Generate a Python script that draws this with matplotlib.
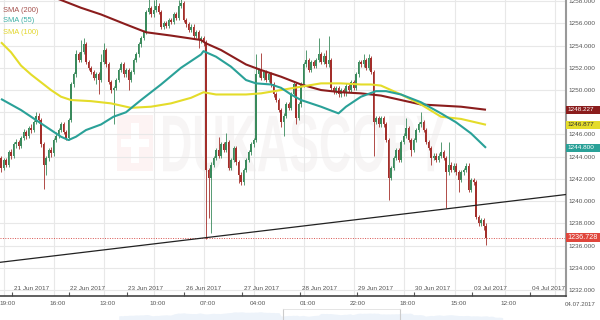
import numpy as np
import matplotlib
matplotlib.use("Agg")
import matplotlib.pyplot as plt
from matplotlib import transforms
from matplotlib.patches import Rectangle, PathPatch
from matplotlib.lines import Line2D
from matplotlib.textpath import TextPath
from matplotlib.font_manager import FontProperties
from matplotlib.ticker import FuncFormatter

plt.rcParams['font.family'] = ['Liberation Sans', 'DejaVu Sans']

# hourly XAU/USD candles, 20 Jun -> 03 Jul 2017
opens = [
    1243.9, 1243.0, 1243.7, 1243.3, 1244.4, 1244.1, 1245.1, 1245.3, 1245.0, 1245.7,
    1246.2, 1245.9, 1246.6, 1246.4, 1247.1, 1247.7, 1247.3, 1245.1, 1243.3, 1243.9,
    1244.6, 1244.3, 1245.5, 1245.9, 1246.4, 1246.9, 1246.2, 1245.7, 1247.3, 1250.5,
    1251.4, 1253.2, 1252.7, 1253.4, 1254.1, 1252.5, 1252.0, 1251.6, 1251.1, 1251.4,
    1250.9, 1252.5, 1253.6, 1252.3, 1250.7, 1250.0, 1250.2, 1250.9, 1251.8, 1252.3,
    1251.4, 1251.8, 1250.9, 1251.6, 1252.7, 1253.2, 1254.1, 1254.7, 1255.2, 1257.0,
    1257.4, 1256.8, 1257.2, 1257.6, 1257.0, 1255.7, 1256.0, 1255.8, 1256.3, 1256.1,
    1256.8, 1256.5, 1257.6, 1257.8, 1256.3, 1255.9, 1255.4, 1255.7, 1254.9, 1255.2,
    1254.5, 1254.7, 1254.3, 1242.8, 1242.1, 1243.3, 1243.9, 1244.6, 1244.1, 1245.1,
    1244.6, 1245.3, 1243.0, 1243.7, 1244.8, 1243.5, 1242.4, 1241.7, 1242.8, 1243.7,
    1244.4, 1245.1, 1245.5, 1251.4, 1251.8, 1251.1, 1251.6, 1250.9, 1251.4, 1250.5,
    1249.6, 1249.1, 1248.2, 1247.1, 1247.7, 1248.7, 1248.4, 1249.6, 1250.5, 1247.5,
    1248.7, 1250.5, 1252.3, 1252.7, 1251.8, 1252.5, 1252.2, 1252.7, 1253.2, 1252.5,
    1253.1, 1252.3, 1252.7, 1250.2, 1249.8, 1250.2, 1249.6, 1250.0, 1249.7, 1250.4,
    1250.0, 1250.7, 1250.2, 1251.4, 1252.5, 1252.3, 1252.7, 1252.0, 1252.9, 1251.6,
    1247.1, 1247.5, 1246.9, 1247.5, 1246.9, 1245.5, 1242.1, 1243.0, 1243.9, 1244.6,
    1243.7, 1245.3, 1245.9, 1246.6, 1245.5, 1244.6, 1245.5, 1246.4, 1246.9, 1247.1,
    1246.4, 1245.3, 1244.8, 1243.9, 1244.1, 1243.7, 1244.1, 1244.4, 1243.9, 1242.6,
    1243.3, 1242.8, 1243.2, 1242.6, 1241.9, 1242.6, 1242.8, 1243.2, 1241.0, 1241.9,
    1241.7, 1238.6, 1238.0, 1238.3, 1237.8,
]
highs = [
    1244.1, 1243.9, 1243.9, 1244.6, 1244.7, 1245.3, 1245.6, 1245.5, 1245.9, 1246.5,
    1246.4, 1246.8, 1246.9, 1247.3, 1248.0, 1247.9, 1247.5, 1245.3, 1244.1, 1244.8,
    1244.9, 1245.7, 1246.2, 1246.6, 1247.1, 1247.1, 1246.4, 1247.5, 1250.7, 1251.6,
    1253.6, 1253.4, 1254.5, 1254.7, 1254.3, 1252.7, 1252.2, 1251.8, 1251.6, 1251.6,
    1253.2, 1254.2, 1253.8, 1252.5, 1250.9, 1250.4, 1251.1, 1252.0, 1252.5, 1252.5,
    1252.0, 1252.0, 1251.8, 1252.9, 1253.4, 1254.3, 1254.9, 1255.4, 1257.2, 1258.5,
    1257.6, 1258.1, 1258.4, 1257.8, 1257.2, 1256.2, 1256.2, 1256.5, 1256.5, 1257.0,
    1257.0, 1258.1, 1258.3, 1258.0, 1256.5, 1256.1, 1255.9, 1255.9, 1255.4, 1255.4,
    1254.9, 1254.9, 1254.5, 1243.0, 1243.5, 1244.1, 1244.8, 1245.8, 1245.3, 1245.3,
    1246.1, 1245.5, 1243.9, 1245.0, 1245.0, 1243.7, 1242.6, 1243.0, 1243.9, 1244.6,
    1245.3, 1245.7, 1253.2, 1252.0, 1253.3, 1251.8, 1251.8, 1251.6, 1251.6, 1250.7,
    1249.8, 1249.3, 1248.4, 1247.9, 1248.9, 1248.9, 1249.8, 1250.7, 1250.7, 1248.9,
    1250.7, 1252.5, 1253.6, 1252.9, 1252.7, 1252.7, 1252.9, 1254.7, 1253.4, 1253.3,
    1253.6, 1254.9, 1252.9, 1250.4, 1250.4, 1250.4, 1250.2, 1250.2, 1250.6, 1250.6,
    1250.9, 1250.9, 1251.6, 1252.7, 1252.7, 1253.2, 1252.9, 1253.2, 1253.1, 1251.8,
    1247.7, 1247.7, 1247.7, 1247.7, 1247.1, 1245.7, 1243.2, 1244.1, 1244.8, 1244.8,
    1245.5, 1246.1, 1247.5, 1246.8, 1245.7, 1245.7, 1246.6, 1247.1, 1248.0, 1247.3,
    1246.6, 1245.5, 1245.0, 1244.3, 1244.3, 1244.3, 1245.3, 1244.6, 1244.1, 1245.3,
    1243.5, 1243.4, 1243.4, 1242.8, 1242.8, 1243.0, 1243.4, 1243.4, 1242.1, 1242.1,
    1241.9, 1238.8, 1238.5, 1238.5, 1238.0,
]
lows = [
    1242.6, 1242.8, 1243.1, 1243.1, 1243.8, 1243.9, 1244.8, 1244.7, 1244.8, 1245.5,
    1245.6, 1245.7, 1246.1, 1246.2, 1246.9, 1247.0, 1244.9, 1241.1, 1242.4, 1243.6,
    1244.0, 1244.1, 1245.3, 1245.7, 1246.2, 1246.0, 1245.5, 1245.5, 1247.1, 1250.3,
    1251.2, 1252.5, 1252.5, 1253.2, 1252.3, 1251.8, 1251.4, 1250.9, 1250.5, 1249.6,
    1250.7, 1252.3, 1252.1, 1250.5, 1249.7, 1246.9, 1250.0, 1250.7, 1251.6, 1251.2,
    1251.2, 1250.0, 1250.7, 1251.4, 1252.5, 1253.0, 1253.9, 1254.5, 1255.0, 1256.8,
    1256.6, 1256.6, 1257.0, 1256.8, 1255.5, 1255.5, 1255.6, 1255.6, 1255.9, 1255.9,
    1256.3, 1256.3, 1257.4, 1256.1, 1255.7, 1255.2, 1255.2, 1254.7, 1254.7, 1253.8,
    1254.2, 1254.0, 1236.6, 1238.5, 1237.1, 1243.1, 1243.7, 1243.9, 1243.9, 1244.4,
    1244.4, 1242.8, 1242.8, 1243.5, 1243.3, 1241.6, 1241.5, 1241.5, 1242.6, 1243.5,
    1244.2, 1244.9, 1245.3, 1251.2, 1250.9, 1250.9, 1250.7, 1250.7, 1250.3, 1249.4,
    1248.9, 1248.0, 1246.7, 1245.9, 1247.5, 1248.2, 1248.2, 1249.4, 1246.9, 1247.3,
    1248.5, 1250.3, 1252.1, 1251.6, 1251.6, 1252.0, 1252.0, 1252.5, 1252.3, 1252.3,
    1252.1, 1252.1, 1250.0, 1249.6, 1249.6, 1249.4, 1249.4, 1249.5, 1249.5, 1249.8,
    1249.8, 1250.0, 1250.0, 1251.2, 1252.1, 1252.1, 1251.8, 1251.8, 1251.4, 1244.1,
    1246.9, 1246.7, 1246.7, 1246.7, 1245.3, 1240.1, 1241.9, 1242.8, 1243.7, 1243.5,
    1243.5, 1245.1, 1245.7, 1245.3, 1244.1, 1244.4, 1245.3, 1246.2, 1246.7, 1246.2,
    1245.1, 1244.6, 1243.3, 1243.7, 1243.5, 1243.5, 1243.9, 1243.7, 1239.4, 1242.4,
    1242.6, 1242.6, 1242.4, 1240.8, 1241.7, 1242.4, 1242.6, 1240.8, 1240.8, 1241.5,
    1238.4, 1237.8, 1237.8, 1237.4, 1236.1,
]
closes = [
    1243.0, 1243.7, 1243.3, 1244.4, 1244.1, 1245.1, 1245.3, 1245.0, 1245.7, 1246.2,
    1245.9, 1246.6, 1246.4, 1247.1, 1247.7, 1247.3, 1245.1, 1243.3, 1243.9, 1244.6,
    1244.3, 1245.5, 1245.9, 1246.4, 1246.9, 1246.2, 1245.7, 1247.3, 1250.5, 1251.4,
    1253.2, 1252.7, 1253.4, 1254.1, 1252.5, 1252.0, 1251.6, 1251.1, 1251.4, 1250.9,
    1252.5, 1253.6, 1252.3, 1250.7, 1250.0, 1250.2, 1250.9, 1251.8, 1252.3, 1251.4,
    1251.8, 1250.9, 1251.6, 1252.7, 1253.2, 1254.1, 1254.7, 1255.2, 1257.0, 1257.4,
    1256.8, 1257.2, 1257.6, 1257.0, 1255.7, 1256.0, 1255.8, 1256.3, 1256.1, 1256.8,
    1256.5, 1257.6, 1257.8, 1256.3, 1255.9, 1255.4, 1255.7, 1254.9, 1255.2, 1254.5,
    1254.7, 1254.3, 1242.8, 1242.1, 1243.3, 1243.9, 1244.6, 1244.1, 1245.1, 1244.6,
    1245.3, 1243.0, 1243.7, 1244.8, 1243.5, 1242.4, 1241.7, 1242.8, 1243.7, 1244.4,
    1245.1, 1245.5, 1251.4, 1251.8, 1251.1, 1251.6, 1250.9, 1251.4, 1250.5, 1249.6,
    1249.1, 1248.2, 1247.1, 1247.7, 1248.7, 1248.4, 1249.6, 1250.5, 1247.5, 1248.7,
    1250.5, 1252.3, 1252.7, 1251.8, 1252.5, 1252.2, 1252.7, 1253.2, 1252.5, 1253.1,
    1252.3, 1252.7, 1250.2, 1249.8, 1250.2, 1249.6, 1250.0, 1249.7, 1250.4, 1250.0,
    1250.7, 1250.2, 1251.4, 1252.5, 1252.3, 1252.7, 1252.0, 1252.9, 1251.6, 1247.1,
    1247.5, 1246.9, 1247.5, 1246.9, 1245.5, 1242.1, 1243.0, 1243.9, 1244.6, 1243.7,
    1245.3, 1245.9, 1246.6, 1245.5, 1244.6, 1245.5, 1246.4, 1246.9, 1247.1, 1246.4,
    1245.3, 1244.8, 1243.9, 1244.1, 1243.7, 1244.1, 1244.4, 1243.9, 1242.6, 1243.3,
    1242.8, 1243.2, 1242.6, 1241.9, 1242.6, 1242.8, 1243.2, 1241.0, 1241.9, 1241.7,
    1238.6, 1238.0, 1238.3, 1237.8, 1236.728,
]

# moving averages, read at a few candle positions
sma200_idx = [18, 24, 32, 40, 50, 58, 68, 80, 82, 88, 98, 104, 112, 120, 128, 136, 144,
              152, 160, 168, 176, 184, 194]
sma200 = [1258.6, 1258.1, 1257.4, 1256.8, 1255.9, 1255.2, 1254.9, 1254.5, 1254.2, 1253.6,
          1252.3, 1251.8, 1251.2, 1250.5, 1250.0, 1249.8, 1249.7, 1249.5, 1249.1, 1248.7,
          1248.6, 1248.5, 1248.227]
sma55_idx = [0, 8, 14, 20, 24, 27, 30, 34, 40, 45, 50, 56, 64, 72, 80, 81, 86, 92, 98, 102,
             108, 112, 116, 120, 128, 135, 138, 144, 150, 154, 160, 168, 176, 182, 188, 194]
sma55 = [1249.2, 1248.2, 1247.3, 1246.4, 1245.8, 1245.5, 1245.8, 1246.4, 1246.9, 1247.6,
         1248.0, 1249.1, 1250.5, 1252.0, 1253.2, 1253.5, 1253.0, 1252.1, 1250.9, 1250.6,
         1250.5, 1250.2, 1249.6, 1249.1, 1248.5, 1247.9, 1248.5, 1249.4, 1249.9, 1249.9,
         1249.6, 1248.9, 1247.9, 1247.1, 1246.1, 1244.8]
sma100_idx = [0, 4, 8, 12, 16, 20, 24, 28, 36, 44, 50, 52, 60, 68, 76, 81, 86, 98, 104, 112,
              120, 128, 136, 144, 148, 152, 160, 168, 176, 184, 194]
sma100 = [1254.3, 1253.4, 1252.2, 1251.4, 1250.7, 1250.0, 1249.4, 1249.1, 1249.0, 1248.8,
          1248.5, 1248.4, 1248.5, 1248.8, 1249.3, 1249.8, 1249.6, 1249.6, 1249.7, 1250.0,
          1250.3, 1250.6, 1250.6, 1250.5, 1250.5, 1250.4, 1249.6, 1248.7, 1247.6, 1247.4,
          1246.877]

trend_x = [-0.4, 226.0]
trend_y = [1234.5, 1240.6]

date_idx = [4.4, 27.2, 50.4, 73.2, 96.4, 119.6, 142.4, 165.2, 188.4, 211.6]
date_labels = ['21 Jun 2017', '22 Jun 2017', '23 Jun 2017', '26 Jun 2017', '27 Jun 2017',
               '28 Jun 2017', '29 Jun 2017', '30 Jun 2017', '03 Jul 2017', '04 Jul 2017']
grid_idx = [1.0, 21.0, 41.1, 61.1, 81.2, 101.2, 121.2, 141.3, 161.3, 181.4, 201.4, 221.4]
hour_labels = ['19:00', '16:00', '13:00', '10:00', '07:00', '04:00', '01:00', '22:00',
               '18:00', '15:00', '12:00']

c_up, c_dn = '#3a8a5c', '#a32e2a'
c200, c55, c100 = '#8b1d1d', '#2aa198', '#e4dc2a'

W, H = 600, 320
fig = plt.figure(figsize=(W / 100, H / 100), dpi=100)
fig.patch.set_facecolor('white')
ax = fig.add_axes([0, 24 / H, 566 / W, 296 / H])
ax.set_facecolor('none')

# very faint watermark
fp = FontProperties(family='Liberation Sans', weight='bold')
tp = TextPath((0, 0), 'DUKASCOPY', size=1, prop=fp)
ext = tp.get_extents()
tr = transforms.Affine2D().translate(-ext.x0, -ext.y0).scale(
    (445 - 163) / ext.width, (172 - 115) / ext.height).translate(163, H - 172)
ax.add_patch(PathPatch(tp, transform=tr, facecolor='#f7f5f5', edgecolor='none',
                       zorder=0.2, clip_on=False))
idt = transforms.IdentityTransform()
ax.add_patch(Rectangle((117, H - 171), 36, 56, transform=idt, facecolor='#fdf3f3',
                       edgecolor='none', zorder=0.2))
ax.add_patch(Rectangle((131, H - 163), 8, 40, transform=idt, facecolor='white',
                       edgecolor='none', zorder=0.3))
ax.add_patch(Rectangle((121, H - 147), 28, 8, transform=idt, facecolor='white',
                       edgecolor='none', zorder=0.3))

idx = np.arange(len(closes))
o = np.array(opens)
c = np.array(closes)
colors = np.where(c >= o, c_up, c_dn)
ax.vlines(idx, lows, highs, colors=colors, lw=0.6, zorder=3)
ax.bar(idx, np.maximum(np.abs(c - o), 0.06), bottom=np.minimum(o, c), width=0.7,
       color=colors, edgecolor='none', zorder=3)

ax.plot(sma200_idx, sma200, color=c200, lw=1.5, zorder=4, solid_capstyle='butt')
ax.plot(sma100_idx, sma100, color=c100, lw=1.5, zorder=4, solid_capstyle='butt')
ax.plot(sma55_idx, sma55, color=c55, lw=1.5, zorder=4, solid_capstyle='butt')
ax.plot(trend_x, trend_y, color='#222222', lw=0.9, zorder=4)
ax.axhline(closes[-1], color='#d9534f', ls=(0, (1, 1.5)), lw=0.7, zorder=2)

ax.set_xlim(-0.4, 226.0)
ax.set_ylim(1231.47, 1258.1)

# 1248 sits under the SMA(200) box, so its label is not shown
ax.set_yticks(range(1232, 1259, 2))
ax.yaxis.tick_right()
ax.yaxis.set_major_formatter(FuncFormatter(lambda v, p: '' if round(v) == 1248 else f'{v:.3f}'))
ax.tick_params(axis='y', length=0, pad=2, labelsize=4.6, labelcolor='#555555')
ax.grid(axis='y', color='#e8e8e8', lw=0.8)
for g in grid_idx:
    ax.axvline(g, color='#e8e8e8', lw=0.8, zorder=1)

ax.set_xticks(date_idx)
ax.set_xticklabels([])
ax.tick_params(axis='x', direction='in', length=3, width=0.8, color='#555555')
bt = transforms.blended_transform_factory(ax.transData, ax.transAxes)
for d, lbl in zip(date_idx, date_labels):
    ax.text(d + 0.6, 0.026, lbl, transform=bt, fontsize=4.6, color='#555555',
            ha='left', va='center')
for g, lbl in zip(grid_idx, hour_labels):
    ax.text(g + 1.5, -0.027, lbl, transform=bt, fontsize=4.6, color='#555555',
            ha='center', va='center', clip_on=False)
fig.text(580 / W, 1 - 304 / H, '04.07.2017', fontsize=4.4, color='#555555',
         ha='center', va='center')

for side in ['top', 'left']:
    ax.spines[side].set_visible(False)
ax.spines['bottom'].set_color('#444444')
ax.spines['bottom'].set_linewidth(1.2)
ax.spines['right'].set_color('#999999')
ax.spines['right'].set_linewidth(1.5)

# last-value boxes on the price scale
unit = (1258.1 - 1231.47) / 296
bl = transforms.blended_transform_factory(fig.transFigure, ax.transData)
boxes = [(sma200[-1], c200, 'white', 8, 4.6),
         (sma100[-1], c100, '#333333', 8, 4.6),
         (sma55[-1], c55, 'white', 8, 4.6),
         (closes[-1], '#e0463c', 'white', 9, 5.2)]
for val, fc, tc, hpx, fs in boxes:
    ax.add_patch(Rectangle((566 / W, val - hpx * unit / 2), 34 / W, hpx * unit,
                           transform=bl, facecolor=fc, edgecolor='none',
                           clip_on=False, zorder=6))
    ax.text(567.5 / W, val, f'{val:.3f}', transform=bl, color=tc, fontsize=fs,
            ha='left', va='center', clip_on=False, zorder=7)

fig.text(3 / W, 1 - 10 / H, 'SMA (200)', color='#a5524e', fontsize=5.4, va='center')
fig.text(3 / W, 1 - 21 / H, 'SMA (55)', color='#3fb0a6', fontsize=5.4, va='center')
fig.text(3 / W, 1 - 33 / H, 'SMA (100)', color='#e2d62a', fontsize=5.4, va='center')

# navigator strip at the bottom
nav = fig.add_axes([0, 0, 566 / W, 10 / H])
nav.fill_between(idx, closes, 1220, color='#edf3fa', lw=0)
nav.set_xlim(-60, 226)
nav.set_ylim(1228, 1264)
nav.axis('off')
for px in [283, 400]:
    fig.add_artist(Line2D([px / W, px / W], [0, 11 / H], color='#cccccc', lw=0.8))
fig.add_artist(Line2D([283 / W, 400 / W], [11 / H, 11 / H], color='#e0e0e0', lw=0.6))

fig.savefig('out.png', dpi=100)
